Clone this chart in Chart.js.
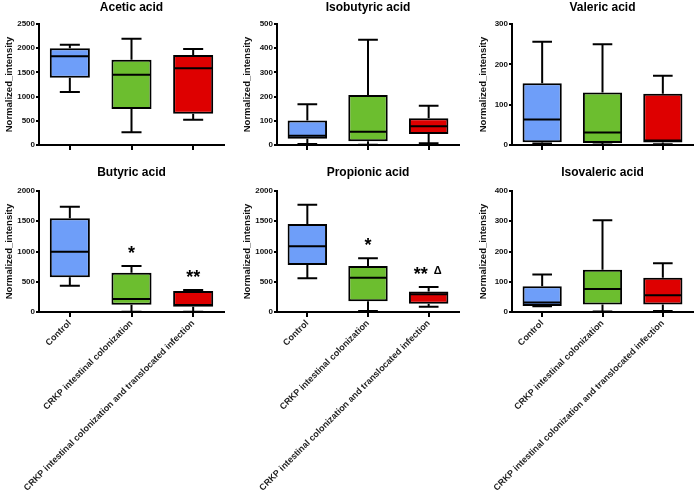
<!DOCTYPE html>
<html>
<head>
<meta charset="utf-8">
<script src="https://cdn.jsdelivr.net/npm/chart.js@4.4.1/dist/chart.umd.min.js"></script>
<style>
  html, body { margin: 0; padding: 0; background: #fff; }
  #wrap { position: relative; width: 696px; height: 497px; overflow: hidden; }
  canvas { position: absolute; }
</style>
</head>
<body>
<div id="wrap">
  <canvas id="c0" width="232" height="160" style="left:0;top:0"></canvas>
  <canvas id="c1" width="232" height="160" style="left:232px;top:0"></canvas>
  <canvas id="c2" width="232" height="160" style="left:464px;top:0"></canvas>
  <canvas id="c3" width="232" height="337" style="left:0;top:160px"></canvas>
  <canvas id="c4" width="232" height="337" style="left:232px;top:160px"></canvas>
  <canvas id="c5" width="232" height="337" style="left:464px;top:160px"></canvas>
</div>
<script>
const groups = ['Control', 'CRKP intestinal colonization', 'CRKP intestinal colonization and translocated infection'];
const boxColors = ['#6E9EF9', '#6CBE2F', '#DE0000'];

// five-number summaries per group: [min, q1, median, q3, max]
const acetic     = [[1095, 1391, 1832, 1997, 2073], [262, 744, 1453, 1763, 2197], [523, 647, 1584, 1860, 1983]];
const isobutyric = [[4, 26, 38, 101, 168], [1, 16, 55, 207, 435], [7, 45, 77, 111, 162]];
const valeric    = [[4, 7, 63, 153, 256], [1, 5, 31, 130, 250], [2, 6, 11, 127, 172]];
const butyric    = [[435, 573, 997, 1548, 1741], [5, 121, 215, 650, 760], [5, 88, 116, 347, 364]];
const propionic  = [[556, 777, 1085, 1455, 1774], [17, 176, 567, 760, 887], [85, 135, 295, 340, 415]];
const isovaleric = [[19, 20, 31, 85, 124], [2, 25, 76, 140, 303], [3, 25, 55, 113, 161]];

const titles = ['Acetic acid', 'Isobutyric acid', 'Valeric acid', 'Butyric acid', 'Propionic acid', 'Isovaleric acid'];
const yMax  = [2500, 500, 300, 2000, 2000, 400];
const yStep = [500, 100, 100, 500, 500, 100];

// significance marks above groups
const starsButyric   = ['', '*', '**'];
const starsPropionic = ['', '*', '**'];
const deltaPropionic = ['', '', 'Δ'];

Chart.defaults.font.family = '"Liberation Sans", Arial, sans-serif';
Chart.defaults.color = '#000';

const FONT = '"Liberation Sans", Arial, sans-serif';

const boxPlugin = {
  id: 'boxes',
  afterDatasetsDraw(chart, args, opts) {
    const { ctx, chartArea } = chart;
    const y = chart.scales.y;
    const meta = chart.getDatasetMeta(0);
    ctx.save();
    ctx.strokeStyle = '#000';
    ctx.lineWidth = 2;
    opts.stats.forEach((s, i) => {
      const bar = meta.data[i];
      const cx = bar.x, half = bar.width / 2, cap = half / 2;
      const [mn, q1, md, q3, mx] = s.map(v => y.getPixelForValue(v));
      ctx.beginPath();
      ctx.moveTo(cx, q3); ctx.lineTo(cx, mx);
      ctx.moveTo(cx - cap, mx); ctx.lineTo(cx + cap, mx);
      ctx.moveTo(cx, q1); ctx.lineTo(cx, mn);
      ctx.moveTo(cx - cap, mn); ctx.lineTo(cx + cap, mn);
      ctx.moveTo(cx - half + 1, md); ctx.lineTo(cx + half - 1, md);
      ctx.stroke();

      const top = y.getPixelForValue(s[4]) - 18;
      ctx.fillStyle = '#000';
      ctx.textBaseline = 'alphabetic';
      if (opts.stars && opts.stars[i]) {
        ctx.font = 'bold 18px ' + FONT;
        if (opts.delta && opts.delta[i]) {
          ctx.textAlign = 'right';
          ctx.fillText(opts.stars[i], cx - 1, top + 11);
          ctx.font = 'bold 11px ' + FONT;
          ctx.textAlign = 'left';
          ctx.fillText(opts.delta[i], cx + 5, top + 5);
        } else {
          ctx.textAlign = 'center';
          ctx.fillText(opts.stars[i], cx, top + 11);
        }
      }
    });
    ctx.font = 'bold 12px ' + FONT;
    ctx.textAlign = 'center';
    ctx.textBaseline = 'middle';
    ctx.fillStyle = '#000';
    ctx.fillText(opts.title, (chartArea.left + chartArea.right) / 2, opts.titleY);
    ctx.restore();
  }
};

function makePanel(idx, stats, cfg) {
  const bottomRow = idx >= 3;
  new Chart(document.getElementById('c' + idx), {
    type: 'bar',
    data: {
      labels: groups,
      datasets: [{
        data: stats.map(s => [s[1], s[3]]),
        backgroundColor: boxColors,
        borderColor: '#000',
        borderWidth: 2,
        borderSkipped: false,
        barPercentage: 0.65,
        categoryPercentage: 1,
      }],
    },
    options: {
      responsive: false,
      animation: false,
      layout: { padding: { top: cfg.padTop, right: cfg.padR, left: 0, bottom: 0 } },
      plugins: {
        legend: { display: false },
        tooltip: { enabled: false },
        boxes: { stats, title: titles[idx], titleY: cfg.titleY, stars: cfg.stars, delta: cfg.delta },
      },
      scales: {
        x: {
          offset: true,
          border: { color: '#000', width: 2 },
          grid: { display: true, drawOnChartArea: false, drawTicks: true, tickLength: 5, offset: false, color: '#000', lineWidth: 2 },
          ticks: { display: bottomRow, autoSkip: false, maxRotation: 45, minRotation: 45, padding: 1, color: '#222', font: { size: 9, weight: 'bold' } },
          afterFit: s => { s.height = cfg.xH; },
        },
        y: {
          min: 0,
          max: yMax[idx],
          border: { color: '#000', width: 2 },
          grid: { display: true, drawOnChartArea: false, drawTicks: true, tickLength: 3, color: '#000', lineWidth: 2 },
          ticks: { stepSize: yStep[idx], padding: 1, color: '#111', font: { size: 8, weight: 'bold' }, callback: v => String(v) },
          title: { display: true, text: 'Normalized_intensity', color: '#111', font: { size: 9.5, weight: 'bold' }, padding: { top: cfg.titlePad, bottom: 0 } },
          afterFit: s => { s.width = cfg.axisW; },
        },
      },
    },
    plugins: [boxPlugin],
  });
}

const topRow = { padTop: 24, xH: 15, titleY: 8 };
const botRow = { padTop: 31, xH: 185, titleY: 13 };

makePanel(0, acetic,     { ...topRow, axisW: 39, padR: 8, titlePad: 4 });
makePanel(1, isobutyric, { ...topRow, axisW: 45, padR: 5, titlePad: 10 });
makePanel(2, valeric,    { ...topRow, axisW: 48, padR: 3, titlePad: 14 });
makePanel(3, butyric,    { ...botRow, axisW: 39, padR: 8, titlePad: 4, stars: starsButyric });
makePanel(4, propionic,  { ...botRow, axisW: 45, padR: 5, titlePad: 10, stars: starsPropionic, delta: deltaPropionic });
makePanel(5, isovaleric, { ...botRow, axisW: 48, padR: 3, titlePad: 14 });
</script>
</body>
</html>
